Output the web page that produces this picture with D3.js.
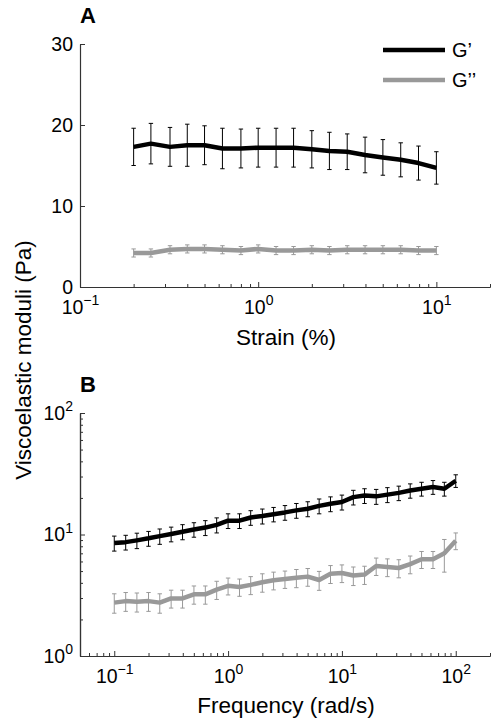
<!DOCTYPE html>
<html>
<head>
<meta charset="utf-8">
<script src="https://cdn.jsdelivr.net/npm/d3@7"></script>
<style>
  html, body { margin: 0; padding: 0; background: #fff; }
  svg { display: block; font-family: "Liberation Sans", Arial, Helvetica, sans-serif; }
</style>
</head>
<body>
<svg id="chart" width="498" height="723"></svg>
<script>
// ---------- DATA ----------
// Panel A: strain sweep
const strain = [0.2, 0.25, 0.32, 0.4, 0.5, 0.63, 0.8, 1.0, 1.26, 1.58, 2.0, 2.51, 3.16, 3.98, 5.01, 6.31, 7.94, 10];
const gPrimeA = [17.3, 17.7, 17.3, 17.5, 17.5, 17.1, 17.1, 17.2, 17.2, 17.2, 17.0, 16.8, 16.7, 16.3, 16.0, 15.7, 15.3, 14.7];
const gPrimeAErr = [2.3, 2.5, 2.4, 2.6, 2.4, 2.5, 2.4, 2.4, 2.4, 2.4, 2.3, 2.3, 2.2, 2.2, 2.2, 2.1, 2.1, 2.0];
const gDoubleA = [4.2, 4.2, 4.6, 4.7, 4.7, 4.6, 4.5, 4.7, 4.5, 4.5, 4.6, 4.5, 4.6, 4.6, 4.6, 4.6, 4.5, 4.5];
const gDoubleAErr = [0.5, 0.5, 0.5, 0.5, 0.5, 0.5, 0.5, 0.5, 0.5, 0.5, 0.5, 0.5, 0.5, 0.5, 0.5, 0.5, 0.5, 0.5];

// Panel B: frequency sweep
const freq = [0.1, 0.126, 0.158, 0.2, 0.251, 0.316, 0.398, 0.501, 0.631, 0.794,
              1.0, 1.26, 1.58, 2.0, 2.51, 3.16, 3.98, 5.01, 6.31, 7.94,
              10, 12.6, 15.8, 20, 25.1, 31.6, 39.8, 50.1, 63.1, 79.4, 100];
const gPrimeB = [8.5, 8.65, 8.95, 9.3, 9.7, 10.1, 10.55, 11.0, 11.4, 12.0,
                 13.0, 13.0, 13.8, 14.2, 14.7, 15.2, 15.8, 16.3, 17.2, 17.9,
                 18.5, 20.3, 20.9, 20.6, 21.3, 22.0, 23.0, 23.8, 24.6, 23.8, 27.7];
const gPrimeBErr = [1.2, 1.2, 1.3, 1.3, 1.4, 1.4, 1.5, 1.5, 1.6, 1.7,
                    1.8, 1.8, 1.9, 2.0, 2.0, 2.1, 2.2, 2.3, 2.4, 2.5,
                    2.6, 2.8, 2.9, 2.9, 3.0, 3.0, 3.1, 3.1, 3.2, 3.1, 3.3];
const gDoubleB = [2.75, 2.83, 2.8, 2.83, 2.75, 2.98, 2.98, 3.22, 3.22, 3.52,
                  3.78, 3.7, 3.85, 4.05, 4.2, 4.3, 4.4, 4.5, 4.22, 4.75,
                  4.82, 4.6, 4.68, 5.5, 5.4, 5.3, 5.7, 6.25, 6.25, 7.0, 8.9];
const gDoubleBErr = [0.5, 0.5, 0.5, 0.5, 0.5, 0.5, 0.5, 0.55, 0.55, 0.6,
                     0.6, 0.6, 0.65, 0.7, 0.7, 0.7, 0.75, 0.75, 0.75, 0.8,
                     0.8, 0.8, 0.8, 0.9, 0.9, 0.9, 0.95, 1.0, 1.0, 2.1, 1.4];

// Tick labels
const yTicksA = [0, 10, 20, 30];
const xMajorA = [0.1, 1, 10];
const xMajorB = [0.1, 1, 10, 100];
const yMajorB = [1, 10, 100];
const seriesNames = ["G\u2019", "G\u2019\u2019"];

// ---------- STYLE ----------
const BLACK = "#000000", GRAY = "#999999", AXIS = "#333333";
const svg = d3.select("#chart");

function minorTicks(lo, hi) {
  const out = [];
  for (let e = Math.floor(Math.log10(lo)); e <= Math.ceil(Math.log10(hi)); e++) {
    for (let m = 2; m <= 9; m++) {
      const v = m * Math.pow(10, e);
      if (v >= lo * 0.999 && v <= hi * 1.001) out.push(v);
    }
  }
  return out;
}

function powLabel(sel) {
  sel.each(function(d) {
    const t = d3.select(this);
    const e = Math.round(Math.log10(d));
    t.text(null);
    t.append("tspan").text("10");
    t.append("tspan").attr("dy", "-0.6em").attr("font-size", "14px")
      .text(e < 0 ? "\u2212" + Math.abs(e) : String(e));
  });
}

function styleAxis(g) {
  g.selectAll("path.domain").attr("stroke", AXIS).attr("stroke-width", 1.2);
  g.selectAll(".tick line").attr("stroke", AXIS).attr("stroke-width", 1);
  g.selectAll(".tick text").attr("fill", "#000").attr("font-size", "19.5px")
    .attr("font-family", "Liberation Sans, Arial, sans-serif");
}

function drawSeries(g, x, y, xs, ys, es, color) {
  const pts = xs.map((d, i) => ({x: d, y: ys[i], e: es[i]}));
  const eb = g.append("g");
  pts.forEach(p => {
    const px = x(p.x), y1 = y(p.y - p.e), y2 = y(p.y + p.e);
    eb.append("line").attr("x1", px).attr("x2", px).attr("y1", y1).attr("y2", y2)
      .attr("stroke", color).attr("stroke-width", 1);
    [y1, y2].forEach(yy => eb.append("line").attr("x1", px - 2.2).attr("x2", px + 2.2)
      .attr("y1", yy).attr("y2", yy).attr("stroke", color).attr("stroke-width", 1));
  });
  g.append("path").datum(pts)
    .attr("d", d3.line().x(d => x(d.x)).y(d => y(d.y)))
    .attr("fill", "none").attr("stroke", color).attr("stroke-width", 4.5)
    .attr("stroke-linejoin", "round");
}

// ---------- PANEL A ----------
const xA = d3.scaleLog().domain([0.1, 20]).range([80, 490]);
const yA = d3.scaleLinear().domain([0, 30]).range([287, 44]);

const gA = svg.append("g");
// x minor
gA.append("g").attr("transform", `translate(0,${yA(0)})`)
  .call(d3.axisBottom(xA).tickValues(minorTicks(0.1, 20)).tickSize(-3).tickSizeOuter(0).tickFormat(""))
  .call(styleAxis);
// x major
gA.append("g").attr("transform", `translate(0,${yA(0)})`)
  .call(d3.axisBottom(xA).tickValues(xMajorA).tickSize(-5).tickSizeOuter(0).tickPadding(13))
  .call(styleAxis)
  .call(g => g.selectAll(".tick text").attr("dy", "0.71em").call(powLabel));
// y
gA.append("g").attr("transform", `translate(${xA(0.1)},0)`)
  .call(d3.axisLeft(yA).tickValues(yTicksA).tickSize(-5).tickSizeOuter(0).tickPadding(7))
  .call(styleAxis);

drawSeries(gA, xA, yA, strain, gPrimeA, gPrimeAErr, BLACK);
drawSeries(gA, xA, yA, strain, gDoubleA, gDoubleAErr, GRAY);

gA.append("text").attr("x", 80).attr("y", 23).attr("font-weight", "bold")
  .attr("font-size", "22px").text("A");
gA.append("text").attr("x", xA(Math.sqrt(0.1 * 20)) + 1).attr("y", 345)
  .attr("text-anchor", "middle").attr("font-size", "22.5px").text("Strain (%)");

// legend
const legend = gA.append("g");
[BLACK, GRAY].forEach((c, i) => {
  const ly = 50 + i * 30;
  legend.append("line").attr("x1", 383).attr("x2", 445).attr("y1", ly).attr("y2", ly)
    .attr("stroke", c).attr("stroke-width", 4.5);
  legend.append("text").attr("x", 452).attr("y", ly).attr("dy", "0.36em")
    .attr("font-size", "20px").text(seriesNames[i]);
});

// ---------- PANEL B ----------
const xB = d3.scaleLog().domain([0.05, 200]).range([80, 490]);
const yB = d3.scaleLog().domain([1, 100]).range([656, 413]);

const gB = svg.append("g");
gB.append("g").attr("transform", `translate(0,${yB(1)})`)
  .call(d3.axisBottom(xB).tickValues(minorTicks(0.05, 200)).tickSize(-3).tickSizeOuter(0).tickFormat(""))
  .call(styleAxis);
gB.append("g").attr("transform", `translate(0,${yB(1)})`)
  .call(d3.axisBottom(xB).tickValues(xMajorB).tickSize(-5).tickSizeOuter(0).tickPadding(13))
  .call(styleAxis)
  .call(g => g.selectAll(".tick text").attr("dy", "0.71em").call(powLabel));
gB.append("g").attr("transform", `translate(${xB(0.05)},0)`)
  .call(d3.axisLeft(yB).tickValues(minorTicks(1, 100)).tickSize(-3).tickSizeOuter(0).tickFormat(""))
  .call(styleAxis);
gB.append("g").attr("transform", `translate(${xB(0.05)},0)`)
  .call(d3.axisLeft(yB).tickValues(yMajorB).tickSize(-5).tickSizeOuter(0).tickPadding(7))
  .call(styleAxis)
  .call(g => g.selectAll(".tick text").call(powLabel));

drawSeries(gB, xB, yB, freq, gPrimeB, gPrimeBErr, BLACK);
drawSeries(gB, xB, yB, freq, gDoubleB, gDoubleBErr, GRAY);

gB.append("text").attr("x", 80).attr("y", 392).attr("font-weight", "bold")
  .attr("font-size", "22px").text("B");
gB.append("text").attr("x", xB(Math.sqrt(0.05 * 200)) + 1).attr("y", 713)
  .attr("text-anchor", "middle").attr("font-size", "22.5px").text("Frequency (rad/s)");

// shared y label
svg.append("text").attr("transform", "translate(31,360) rotate(-90)")
  .attr("text-anchor", "middle").attr("font-size", "22.5px").text("Viscoelastic moduli (Pa)");
</script>
</body>
</html>
